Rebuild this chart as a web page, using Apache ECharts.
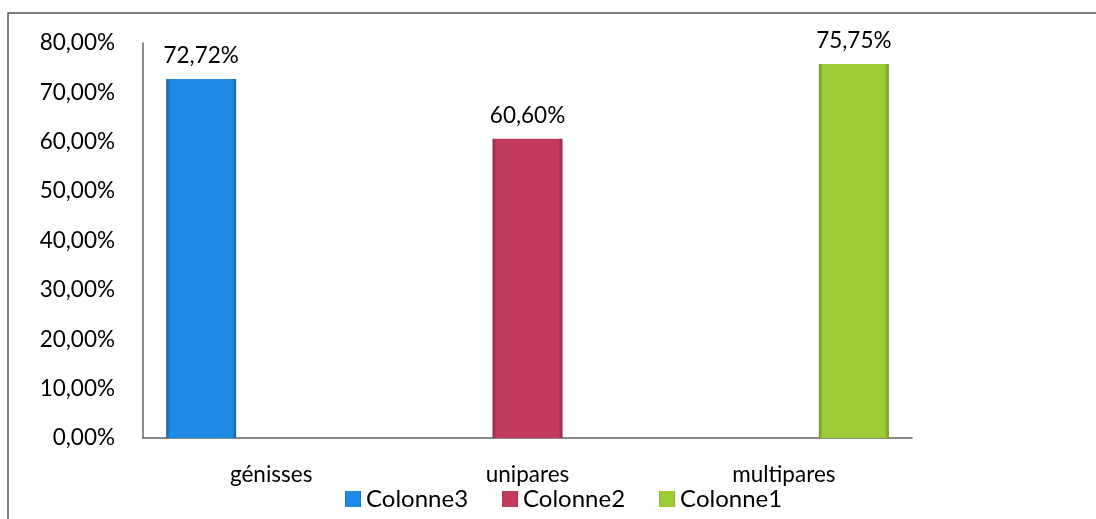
<!DOCTYPE html>
<html>
<head>
<meta charset="utf-8">
<script src="https://cdn.jsdelivr.net/npm/echarts@6/dist/echarts.min.js"></script>
<style>
  html, body { margin: 0; padding: 0; background: #fff; }
  #chart { width: 1096px; height: 519px; }
</style>
</head>
<body>
<div id="chart"></div>
<script>
// Categories and the three column series (percent values)
const categories = ['génisses', 'unipares', 'multipares'];
const seriesNames = ['Colonne3', 'Colonne2', 'Colonne1'];
const colonne3 = [72.72, null, null];
const colonne2 = [null, 60.60, null];
const colonne1 = [null, null, 75.75];
const yTicks = [0, 10, 20, 30, 40, 50, 60, 70, 80];

const colors = ['#1f8be4', '#c23a5c', '#9dcb36'];
const darks = ['#1a5f9e', '#8a2a42', '#6e9426'];
const FONT = 'Lato, "Open Sans", sans-serif';

const fmt = v => v.toFixed(2).replace('.', ',') + '%';

// Slightly darkened edges give the columns a bevelled look
function bevel(c, dark) {
  return new echarts.graphic.LinearGradient(0, 0, 1, 0, [
    { offset: 0, color: dark },
    { offset: 0.06, color: c },
    { offset: 0.94, color: c },
    { offset: 1, color: dark }
  ]);
}

const chart = echarts.init(document.getElementById('chart'));
const dataSets = [colonne3, colonne2, colonne1];

chart.setOption({
  animation: false,
  backgroundColor: '#fff',
  graphic: [{
    type: 'rect',
    shape: { x: 8, y: 13, width: 1200, height: 600 },
    style: { fill: 'none', stroke: '#555', lineWidth: 1.5 },
    silent: true
  }],
  grid: { left: 143, right: 184, top: 43, bottom: 81, containLabel: false },
  legend: {
    left: 340, bottom: 3,
    itemWidth: 16, itemHeight: 16, itemGap: 34,
    icon: 'rect',
    textStyle: { fontFamily: FONT, fontSize: 24, color: '#000' },
    data: seriesNames
  },
  xAxis: {
    type: 'category',
    data: categories,
    axisLine: { show: true, lineStyle: { color: '#666', width: 1.5 } },
    axisTick: { show: false },
    axisLabel: { fontFamily: FONT, fontSize: 22.5, color: '#000', margin: 25 }
  },
  yAxis: {
    type: 'value',
    min: yTicks[0], max: yTicks[yTicks.length - 1], interval: 10,
    axisLine: { show: true, lineStyle: { color: '#666', width: 1.5 } },
    axisTick: { show: false },
    splitLine: { show: false },
    axisLabel: { fontFamily: FONT, fontSize: 22.5, color: '#000', margin: 28, formatter: v => fmt(v) }
  },
  series: seriesNames.map((name, i) => ({
    name: name,
    type: 'bar',
    data: dataSets[i],
    barWidth: 70,
    barGap: '0%',
    itemStyle: { color: bevel(colors[i], darks[i]) },
    label: {
      show: true, position: 'top', distance: 12,
      fontFamily: FONT, fontSize: 22.5, color: '#000',
      formatter: p => fmt(p.value)
    }
  })),
  color: colors
});
</script>
</body>
</html>
